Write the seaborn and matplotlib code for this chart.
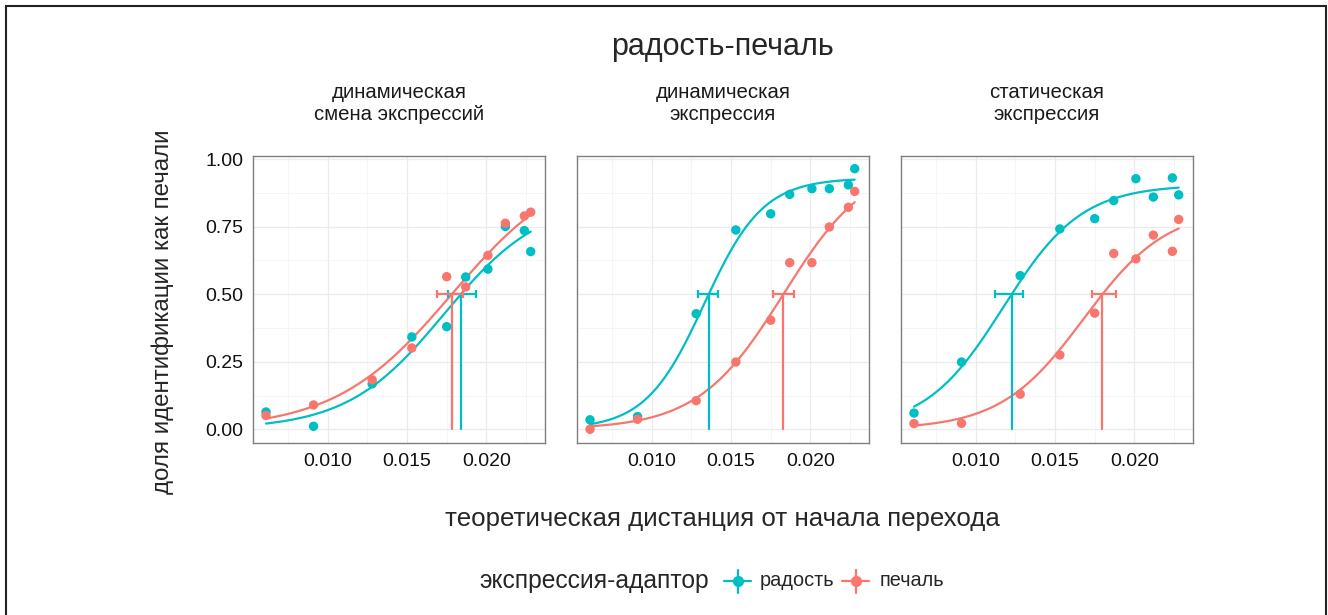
import numpy as np
import pandas as pd
import matplotlib
matplotlib.use('Agg')
import matplotlib.pyplot as plt
from matplotlib.lines import Line2D
from matplotlib.patches import Rectangle
import seaborn as sns

# --- data ---
panels = ['динамическая\nсмена экспрессий', 'динамическая\nэкспрессия', 'статическая\nэкспрессия']
groups = ['радость', 'печаль']
colors = {'радость': '#00BFC4', 'печаль': '#F8766D'}

distance = [0.0061, 0.0091, 0.0128, 0.0153, 0.0175, 0.0187, 0.0201, 0.0212, 0.0224, 0.0228]

joy_p1 = [0.064, 0.011, 0.168, 0.342, 0.380, 0.564, 0.593, 0.751, 0.736, 0.658]
sad_p1 = [0.051, 0.090, 0.183, 0.301, 0.565, 0.527, 0.644, 0.763, 0.790, 0.804]
joy_p2 = [0.035, 0.047, 0.428, 0.738, 0.798, 0.870, 0.891, 0.891, 0.905, 0.965]
sad_p2 = [0.000, 0.037, 0.106, 0.249, 0.404, 0.617, 0.617, 0.749, 0.822, 0.881]
joy_p3 = [0.060, 0.249, 0.569, 0.742, 0.780, 0.847, 0.928, 0.860, 0.931, 0.868]
sad_p3 = [0.021, 0.022, 0.130, 0.275, 0.430, 0.651, 0.631, 0.719, 0.659, 0.777]

# 50% thresholds with their intervals
thr_joy = [0.01839, 0.01359, 0.01226]
thr_sad = [0.01782, 0.01830, 0.01799]
ci_joy_lo = [0.01759, 0.01290, 0.01124]
ci_joy_hi = [0.01935, 0.01416, 0.01296]
ci_sad_lo = [0.01690, 0.01763, 0.01730]
ci_sad_hi = [0.01853, 0.01899, 0.01885]

# fitted logistic curves: upper asymptote and slope
hi_joy = [0.855, 0.93, 0.905]
hi_sad = [1.0, 1.0, 0.82]
k_joy = [327, 540, 405]
k_sad = [272, 370, 380]

points = pd.DataFrame({
    'panel': np.repeat([0, 1, 2], 2 * len(distance)),
    'group': np.tile(np.repeat(groups, len(distance)), 3),
    'x': distance * 6,
    'y': joy_p1 + sad_p1 + joy_p2 + sad_p2 + joy_p3 + sad_p3,
})

fits = {'радость': (thr_joy, ci_joy_lo, ci_joy_hi, hi_joy, k_joy),
        'печаль': (thr_sad, ci_sad_lo, ci_sad_hi, hi_sad, k_sad)}

curve_rows = []
xs = np.linspace(min(distance), max(distance), 200)
for i in range(3):
    for g in groups:
        thr, lo, hi_ci, hi, k = fits[g]
        h = hi[i]
        m = thr[i] - np.log((0.5 / h) / (1 - 0.5 / h)) / k[i]
        ys = h / (1 + np.exp(-k[i] * (xs - m)))
        curve_rows.append(pd.DataFrame({'panel': i, 'group': g, 'x': xs, 'y': ys}))
curves = pd.concat(curve_rows, ignore_index=True)

# --- drawing ---
sns.set_style('white')
plt.rcParams['font.family'] = ['Liberation Sans', 'DejaVu Sans']

W, H = 1328, 615
fig = plt.figure(figsize=(W / 100, H / 100), dpi=100)

lefts = [253, 577, 901]
pw = 291.5
top, bottom = 156, 443.3

for i in range(3):
    ax = fig.add_axes([lefts[i] / W, 1 - bottom / H, pw / W, (bottom - top) / H])
    ax.set_xlim(0.00528, 0.02367)
    ax.set_ylim(-0.052, 1.012)
    ax.set_xticks([0.010, 0.015, 0.020])
    ax.set_xticks([0.0075, 0.0125, 0.0175, 0.0225], minor=True)
    ax.set_yticks([0, 0.25, 0.5, 0.75, 1.0])
    ax.set_yticks([0.125, 0.375, 0.625, 0.875], minor=True)
    ax.grid(which='major', color='#ebebeb', lw=0.9)
    ax.grid(which='minor', color='#f4f4f4', lw=0.6)
    ax.set_axisbelow(True)
    for sp in ax.spines.values():
        sp.set_color('#7f7f7f')
        sp.set_linewidth(1.0)
    ax.tick_params(which='minor', length=0)
    ax.tick_params(which='major', length=4, width=1, color='#333333', labelsize=14,
                   labelcolor='#111111', pad=3)
    ax.set_xticklabels(['0.010', '0.015', '0.020'])
    if i == 0:
        ax.set_yticklabels(['0.00', '0.25', '0.50', '0.75', '1.00'])
    else:
        ax.tick_params(axis='y', length=0, labelleft=False)

    sns.lineplot(data=curves[curves.panel == i], x='x', y='y', hue='group',
                 palette=colors, lw=1.6, legend=False, ax=ax, estimator=None)
    for g in groups:
        thr, lo, hi_ci, hi, k = fits[g]
        c = colors[g]
        ax.plot([thr[i], thr[i]], [0, 0.5], color=c, lw=1.6)
        ax.errorbar(thr[i], 0.5, xerr=[[thr[i] - lo[i]], [hi_ci[i] - thr[i]]],
                    color=c, lw=1.6, capsize=2.6, capthick=1.6, fmt='none')
    sns.scatterplot(data=points[points.panel == i], x='x', y='y', hue='group',
                    palette=colors, s=46, edgecolor='none', legend=False, ax=ax,
                    zorder=5)
    ax.set_xlabel('')
    ax.set_ylabel('')

    cx = (lefts[i] + pw / 2) / W
    fig.text(cx, 1 - 103.5 / H, panels[i], ha='center', va='center', fontsize=14.7,
             linespacing=1.15, color='#1a1a1a')

fig.text((253 + 901 + pw) / 2 / W, 1 - 47 / H, 'радость-печаль', ha='center',
         va='center', fontsize=22)
fig.text((253 + 901 + pw) / 2 / W, 1 - 519 / H,
         'теоретическая дистанция от начала перехода', ha='center', va='center',
         fontsize=18.6)
fig.text(163 / W, 1 - 312 / H, 'доля идентификации как печали', ha='center',
         va='center', rotation=90, fontsize=17.4)

# legend
ly = 1 - 581 / H
fig.text(479 / W, ly, 'экспрессия-адаптор', ha='left', va='center', fontsize=17.7)
for g, kx, tx in [('радость', 737.5, 760), ('печаль', 855.5, 880)]:
    c = colors[g]
    fig.add_artist(Line2D([(kx - 13.5) / W, (kx + 13.5) / W], [ly, ly],
                          transform=fig.transFigure, color=c, lw=1.6))
    fig.add_artist(Line2D([kx / W, kx / W], [1 - 570 / H, 1 - 593 / H],
                          transform=fig.transFigure, color=c, lw=1.6))
    fig.add_artist(Line2D([kx / W], [ly], transform=fig.transFigure, color=c,
                          marker='o', markersize=7, lw=0))
    fig.text(tx / W, ly, g, ha='left', va='center', fontsize=14.3)

# outer frame
fig.add_artist(Rectangle((5.5 / W, -0.05), (1325.5 - 5.5) / W, 1.05 - 5.5 / H,
                         transform=fig.transFigure, fill=False, ec='#222222', lw=1.5))

fig.savefig('out.png', dpi=100)
